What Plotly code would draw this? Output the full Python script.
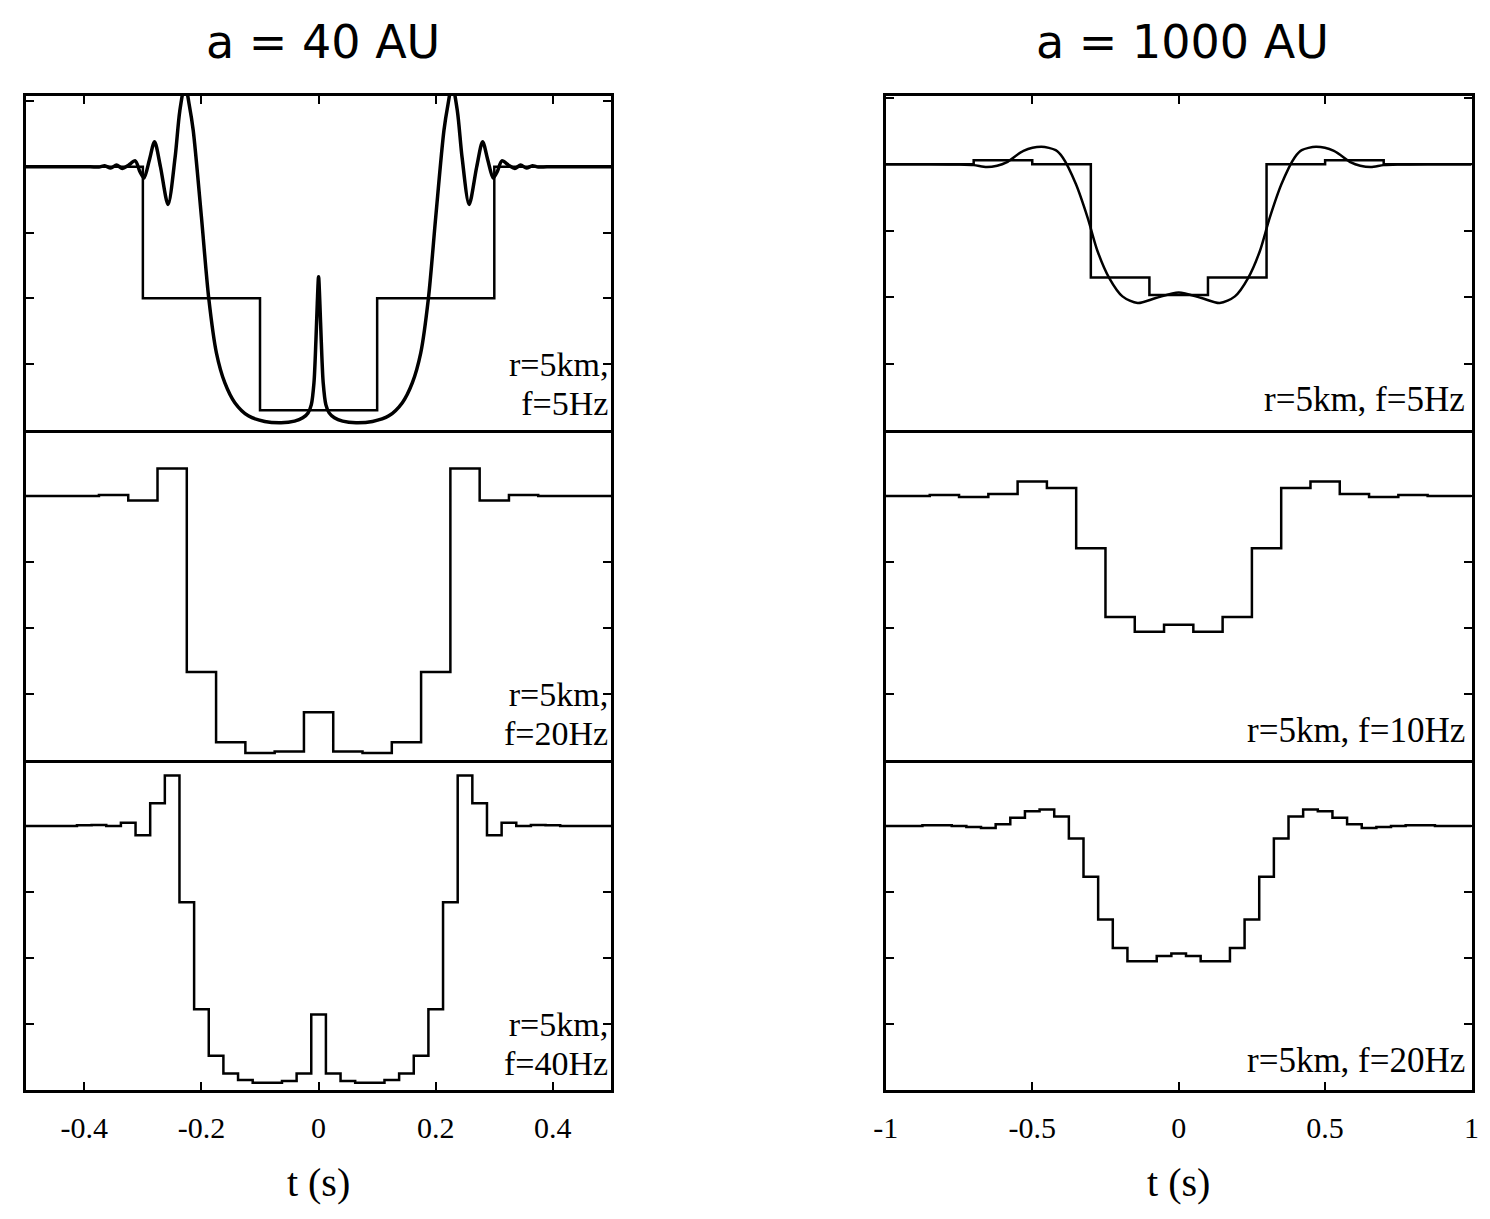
import plotly.graph_objects as go

# ---------------- data ----------------
# a = 40 AU column, time axis in s, normalised flux
tl_bin_t = [-0.6, -0.4, -0.2, 0.0, 0.2, 0.4, 0.6]
tl_bin_flux = [1.0, 1.0, 0.6, 0.26, 0.6, 1.0, 1.0]

tl_curve_t = [-0.5, -0.44, -0.39, -0.375, -0.365, -0.355, -0.345, -0.335, -0.325, -0.313,
              -0.305, -0.298, -0.289, -0.280, -0.270, -0.257, -0.245, -0.237, -0.228,
              -0.221, -0.214, -0.200, -0.1875, -0.1744, -0.160, -0.143, -0.120, -0.092,
              -0.064, -0.041, -0.027, -0.018, -0.0124, -0.0079, -0.0045, -0.0022, 0.0,
              0.0022, 0.0045, 0.0079, 0.0124, 0.018, 0.027, 0.041, 0.064, 0.092, 0.120,
              0.143, 0.160, 0.1744, 0.1875, 0.200, 0.214, 0.221, 0.228, 0.237, 0.245,
              0.257, 0.270, 0.280, 0.289, 0.298, 0.305, 0.313, 0.325, 0.335, 0.345,
              0.355, 0.365, 0.375, 0.39, 0.44, 0.5]
tl_curve_flux = [1.0, 1.0, 1.0, 0.999, 1.003, 0.996, 1.005, 0.995, 1.004, 1.018,
                 0.985, 0.966, 1.02, 1.076, 1.0, 0.885, 1.028, 1.169, 1.25,
                 1.19, 1.11, 0.847, 0.6, 0.434, 0.343, 0.283, 0.243, 0.226,
                 0.222, 0.227, 0.237, 0.252, 0.277, 0.343, 0.474, 0.585, 0.666,
                 0.585, 0.474, 0.343, 0.277, 0.252, 0.237, 0.227, 0.222, 0.226, 0.243,
                 0.283, 0.343, 0.434, 0.6, 0.847, 1.11, 1.19, 1.25, 1.169, 1.028,
                 0.885, 1.0, 1.076, 1.02, 0.966, 0.985, 1.018, 1.004, 0.995, 1.005,
                 0.996, 1.003, 0.999, 1.0, 1.0, 1.0]

ml_bin_t = [-0.5, -0.45, -0.4, -0.35, -0.3, -0.25, -0.2, -0.15, -0.1, -0.05, 0.0,
            0.05, 0.1, 0.15, 0.2, 0.25, 0.3, 0.35, 0.4, 0.45, 0.5]
ml_bin_flux = [1.0, 1.0, 1.0, 1.003, 0.986, 1.083, 0.467, 0.254, 0.221, 0.226, 0.345,
               0.226, 0.221, 0.254, 0.467, 1.083, 0.986, 1.003, 1.0, 1.0, 1.0]

bl_bin_t = [-0.5, -0.475, -0.45, -0.425, -0.4, -0.375, -0.35, -0.325, -0.3, -0.275,
            -0.25, -0.225, -0.2, -0.175, -0.15, -0.125, -0.1, -0.075, -0.05, -0.025, 0.0,
            0.025, 0.05, 0.075, 0.1, 0.125, 0.15, 0.175, 0.2, 0.225, 0.25,
            0.275, 0.3, 0.325, 0.35, 0.375, 0.4, 0.425, 0.45, 0.475, 0.5]
bl_bin_flux = [1.0, 1.0, 1.0, 1.0, 1.002, 1.003, 1.0, 1.01, 0.972, 1.069,
               1.153, 0.769, 0.445, 0.304, 0.25, 0.23, 0.222, 0.222, 0.227, 0.25, 0.429,
               0.25, 0.227, 0.222, 0.222, 0.23, 0.25, 0.304, 0.445, 0.769, 1.153,
               1.069, 0.972, 1.01, 1.0, 1.003, 1.002, 1.0, 1.0, 1.0, 1.0]

# a = 1000 AU column
tr_bin_t = [-1.0, -0.8, -0.6, -0.4, -0.2, 0.0, 0.2, 0.4, 0.6, 0.8, 1.0]
tr_bin_flux = [1.0, 1.0, 1.012, 1.0, 0.659, 0.606, 0.659, 1.0, 1.012, 1.0, 1.0]

tr_curve_t = [-1.0, -0.85, -0.75, -0.70, -0.656, -0.62, -0.588, -0.53, -0.469, -0.42,
              -0.396, -0.351, -0.311, -0.277, -0.237, -0.192, -0.14, -0.078, 0.0,
              0.078, 0.14, 0.192, 0.237, 0.277, 0.311, 0.351, 0.396, 0.42, 0.469,
              0.53, 0.588, 0.62, 0.656, 0.70, 0.75, 0.85, 1.0]
tr_curve_flux = [1.0, 1.0, 0.999, 0.997, 0.991, 0.995, 1.005, 1.04, 1.052, 1.042,
                 1.02, 0.94, 0.839, 0.738, 0.657, 0.602, 0.582, 0.597, 0.614,
                 0.597, 0.582, 0.602, 0.657, 0.738, 0.839, 0.94, 1.02, 1.042, 1.052,
                 1.04, 1.005, 0.995, 0.991, 0.997, 0.999, 1.0, 1.0]

mr_bin_t = [-1.0, -0.9, -0.8, -0.7, -0.6, -0.5, -0.4, -0.3, -0.2, -0.1, 0.0,
            0.1, 0.2, 0.3, 0.4, 0.5, 0.6, 0.7, 0.8, 0.9, 1.0]
mr_bin_flux = [1.0, 1.0, 1.003, 0.997, 1.006, 1.044, 1.024, 0.842, 0.633, 0.589, 0.61,
               0.589, 0.633, 0.842, 1.024, 1.044, 1.006, 0.997, 1.003, 1.0, 1.0]

br_bin_t = [-1.0, -0.95, -0.9, -0.85, -0.8, -0.75, -0.7, -0.65, -0.6, -0.55,
            -0.5, -0.45, -0.4, -0.35, -0.3, -0.25, -0.2, -0.15, -0.1, -0.05, 0.0,
            0.05, 0.1, 0.15, 0.2, 0.25, 0.3, 0.35, 0.4, 0.45, 0.5,
            0.55, 0.6, 0.65, 0.7, 0.75, 0.8, 0.85, 0.9, 0.95, 1.0]
br_bin_flux = [1.0, 1.0, 1.0, 1.002, 1.002, 1.0, 0.997, 0.994, 1.005, 1.025,
               1.045, 1.05, 1.029, 0.962, 0.846, 0.717, 0.63, 0.59, 0.59, 0.606, 0.614,
               0.606, 0.59, 0.59, 0.63, 0.717, 0.846, 0.962, 1.029, 1.05, 1.045,
               1.025, 1.005, 0.994, 0.997, 1.0, 1.002, 1.002, 1.0, 1.0, 1.0]

col_titles = ["a = 40 AU", "a = 1000 AU"]
left_labels = [("r=5km,", "f=5Hz"), ("r=5km,", "f=20Hz"), ("r=5km,", "f=40Hz")]
right_labels = ["r=5km, f=5Hz", "r=5km, f=10Hz", "r=5km, f=20Hz"]
left_xticks = [-0.4, -0.2, 0.0, 0.2, 0.4]
left_xticktext = ["-0.4", "-0.2", "0", "0.2", "0.4"]
right_xticks = [-1.0, -0.5, 0.0, 0.5, 1.0]
right_xticktext = ["-1", "-0.5", "0", "0.5", "1"]
y_ticks = [0.4, 0.6, 0.8, 1.0, 1.2]

# ---------------- layout geometry ----------------
W, H = 1490, 1219
xdom = {"L": [12.9 / W, 607.0 / W], "R": [885.3 / W, 1479.4 / W]}
ybot = [430, 760, 1090]
ydom = [[1 - 430 / H, 1 - 96 / H], [1 - 760 / H, 1 - 430 / H], [1 - 1090 / H, 1 - 760 / H]]

SERIF = "Liberation Serif, Times New Roman, serif"
LBL = dict(family=SERIF, size=35, color="black")
fig = go.Figure()

panels = [
    ("L", 0, tl_bin_t, tl_bin_flux, tl_curve_t, tl_curve_flux),
    ("L", 1, ml_bin_t, ml_bin_flux, None, None),
    ("L", 2, bl_bin_t, bl_bin_flux, None, None),
    ("R", 0, tr_bin_t, tr_bin_flux, tr_curve_t, tr_curve_flux),
    ("R", 1, mr_bin_t, mr_bin_flux, None, None),
    ("R", 2, br_bin_t, br_bin_flux, None, None),
]

for i, (col, row, bt, bf, ct, cf) in enumerate(panels, start=1):
    xa = "x" if i == 1 else f"x{i}"
    ya = "y" if i == 1 else f"y{i}"
    fig.add_trace(go.Scatter(x=bt, y=bf, mode="lines", line=dict(shape="hvh", color="black", width=2.5),
                             xaxis=xa, yaxis=ya, showlegend=False, hoverinfo="skip"))
    if ct is not None:
        fig.add_trace(go.Scatter(x=ct, y=cf, mode="lines",
                                 line=dict(shape="spline", smoothing=0.8, color="black",
                                           width=3.5 if col == "L" else 2.5),
                                 xaxis=xa, yaxis=ya, showlegend=False, hoverinfo="skip"))
    left = col == "L"
    xr = [-0.5, 0.5] if left else [-1.0, 1.0]
    xt = left_xticks if left else right_xticks
    xtt = left_xticktext if left else right_xticktext
    if row == 0:
        yr = [0.2, 1.215] if left else [0.2, 1.205]
    else:
        yr = [0.2, 1.2]
    xaxis = dict(domain=xdom[col], range=xr, anchor=ya, showline=True, linecolor="black",
                 linewidth=3, showgrid=False, zeroline=False,
                 tickvals=xt, ticktext=xtt, tickcolor="black", tickwidth=2, ticklen=8,
                 tickfont=dict(family=SERIF, size=30, color="black"), fixedrange=True)
    if row == 0:
        xaxis.update(side="top", ticks="inside", showticklabels=False, mirror=True)
    elif row == 1:
        xaxis.update(ticks="", showticklabels=False, mirror=False)
    else:
        xaxis.update(side="bottom", ticks="inside", showticklabels=True, ticklabelstandoff=9,
                     mirror=False,
                     title=dict(text="t (s)", font=dict(family=SERIF, size=40, color="black"),
                                standoff=25))
    yaxis = dict(domain=ydom[row], range=yr, anchor=xa, showline=True, linecolor="black",
                 linewidth=3, mirror="ticks", showgrid=False, zeroline=False,
                 tickvals=y_ticks, ticks="inside", tickcolor="black", tickwidth=2, ticklen=8,
                 showticklabels=False, fixedrange=True)
    fig.layout["xaxis" if i == 1 else f"xaxis{i}"] = xaxis
    fig.layout["yaxis" if i == 1 else f"yaxis{i}"] = yaxis

    b = ybot[row]
    if left:
        l1, l2 = left_labels[row]
        # base size 30 sets the line spacing (39 px), spans carry the glyph size
        txt = (f"<span style='font-size:34px'>{l1}</span><br>"
               f"<span style='font-size:34px'>{l2}</span>")
        fig.add_annotation(text=txt, xref=f"{xa} domain", yref="paper",
                           x=0.997, y=1 - (b - 6) / H, xanchor="right", yanchor="bottom",
                           align="right", showarrow=False,
                           font=dict(family=SERIF, size=30, color="black"))
    else:
        fig.add_annotation(text=right_labels[row], xref=f"{xa} domain", yref="paper",
                           x=0.992, y=1 - (b - 30) / H, xanchor="right", yanchor="middle",
                           showarrow=False, font=LBL)

TITLE_FONT = dict(family="DejaVu Sans, sans-serif", size=46, color="black")
fig.add_annotation(text=col_titles[0], xref="paper", yref="paper", x=314.5 / W, y=1 - 42 / H,
                   xanchor="center", yanchor="middle", showarrow=False, font=TITLE_FONT)
fig.add_annotation(text=col_titles[1], xref="paper", yref="paper", x=1186 / W, y=1 - 42 / H,
                   xanchor="center", yanchor="middle", showarrow=False, font=TITLE_FONT)

fig.update_layout(width=W, height=H, margin=dict(l=0, r=0, t=0, b=0),
                  paper_bgcolor="white", plot_bgcolor="white")

fig.write_html("out.html", config={"displayModeBar": False})
